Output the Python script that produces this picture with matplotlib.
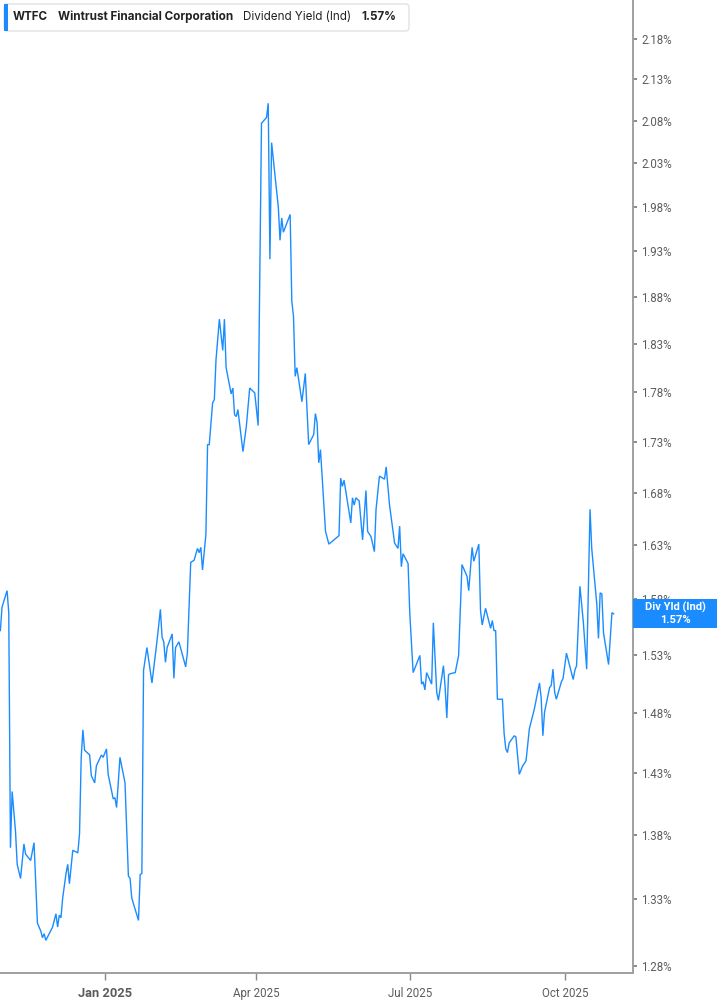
import matplotlib
matplotlib.use('Agg')
import matplotlib.pyplot as plt
import matplotlib.dates as mdates
from matplotlib.ticker import FixedLocator, NullLocator
from matplotlib.patches import FancyBboxPatch, Rectangle
import pandas as pd

# ---------------- data ----------------
base_date = '2025-01-01'
day_offsets = [
    -62, -61, -58, -57, -56, -55, -53, -52, -50, -48,
    -47, -44, -42, -40, -38, -37, -36, -35, -31, -29,
    -28, -27, -26, -25, -23, -22, -21, -19, -16, -15,
    -14, -13, -12, -9, -8, -6, -5, -2, -1, 1,
    2, 5, 6, 7, 9, 12, 14, 15, 16, 20,
    21, 22, 23, 25, 28, 31, 33, 34, 35, 36,
    37, 40, 41, 42, 44, 48, 49, 51, 53, 55,
    56, 57, 58, 60, 61, 62, 64, 65, 66, 68,
    70, 71, 72, 75, 76, 77, 78, 79, 82, 84,
    86, 89, 91, 93, 96, 97, 98, 99, 103, 104,
    105, 106, 110, 111, 112, 113, 114, 117, 119, 121,
    124, 125, 126, 127, 128, 131, 133, 139, 140, 141,
    142, 146, 147, 148, 149, 151, 153, 155, 156, 158,
    160, 161, 163, 166, 167, 169, 172, 174, 175, 176,
    177, 180, 181, 183, 187, 188, 189, 190, 191, 194,
    195, 197, 198, 201, 202, 203, 204, 205, 208, 210,
    212, 215, 216, 218, 219, 222, 223, 224, 226, 229,
    230, 231, 232, 233, 236, 237, 238, 239, 240, 243,
    244, 246, 248, 250, 252, 255, 258, 259, 260, 261,
    264, 265, 266, 267, 268, 271, 272, 274, 278, 279,
    280, 282, 284, 286, 288, 289, 292, 293, 294, 295,
    296, 299, 301, 302,
]
dividend_yield = [
    1.552, 1.573, 1.588, 1.568, 1.370, 1.415, 1.383, 1.357, 1.346, 1.373,
    1.365, 1.360, 1.374, 1.312, 1.306, 1.301, 1.304, 1.299, 1.309, 1.319,
    1.309, 1.318, 1.316, 1.331, 1.350, 1.357, 1.342, 1.368, 1.366, 1.381,
    1.443, 1.466, 1.449, 1.445, 1.428, 1.422, 1.436, 1.445, 1.443, 1.450,
    1.429, 1.409, 1.410, 1.402, 1.443, 1.422, 1.348, 1.346, 1.331, 1.314,
    1.349, 1.350, 1.517, 1.537, 1.506, 1.543, 1.571, 1.546, 1.542, 1.524,
    1.537, 1.549, 1.510, 1.537, 1.542, 1.520, 1.532, 1.614, 1.616, 1.627,
    1.623, 1.628, 1.607, 1.640, 1.727, 1.727, 1.769, 1.772, 1.813, 1.856,
    1.823, 1.856, 1.805, 1.778, 1.784, 1.757, 1.755, 1.762, 1.720, 1.745,
    1.784, 1.779, 1.746, 2.077, 2.084, 2.101, 1.921, 2.054, 1.979, 1.942,
    1.967, 1.951, 1.971, 1.875, 1.859, 1.796, 1.805, 1.770, 1.799, 1.727,
    1.737, 1.758, 1.749, 1.709, 1.722, 1.643, 1.631, 1.639, 1.694, 1.686,
    1.692, 1.651, 1.675, 1.668, 1.675, 1.672, 1.635, 1.682, 1.643, 1.638,
    1.624, 1.664, 1.696, 1.693, 1.705, 1.668, 1.632, 1.627, 1.648, 1.610,
    1.622, 1.613, 1.568, 1.515, 1.530, 1.505, 1.507, 1.500, 1.515, 1.505,
    1.559, 1.498, 1.491, 1.521, 1.502, 1.476, 1.513, 1.514, 1.515, 1.530,
    1.612, 1.601, 1.588, 1.628, 1.615, 1.631, 1.570, 1.557, 1.572, 1.554,
    1.561, 1.552, 1.552, 1.492, 1.492, 1.463, 1.450, 1.447, 1.455, 1.461,
    1.460, 1.429, 1.436, 1.440, 1.467, 1.484, 1.506, 1.493, 1.461, 1.481,
    1.502, 1.504, 1.518, 1.498, 1.492, 1.507, 1.510, 1.532, 1.509, 1.517,
    1.521, 1.592, 1.560, 1.518, 1.664, 1.627, 1.576, 1.545, 1.586, 1.585,
    1.550, 1.522, 1.568, 1.567,
]
y_ticks = [1.28, 1.33, 1.38, 1.43, 1.48, 1.53, 1.58, 1.63, 1.68, 1.73,
           1.78, 1.83, 1.88, 1.93, 1.98, 2.03, 2.08, 2.13, 2.18]
x_tick_dates = ['2025-01-01', '2025-04-01', '2025-07-01', '2025-10-01']
x_tick_labels = ['Jan 2025', 'Apr 2025', 'Jul 2025', 'Oct 2025']
ticker = 'WTFC'
company = 'Wintrust Financial Corporation'
metric = 'Dividend Yield (Ind)'
last_value = 1.57
badge_title = 'Div Yld (Ind)'

# ---------------- figure ----------------
W, H = 717, 1005
LINE = '#1a8cff'
GRAY = '#5c5c5c'
AXIS = '#a0a0a0'

fig = plt.figure(figsize=(W / 100, H / 100), dpi=100)
ax = fig.add_axes([0, 32 / H, 633 / W, 973 / H])

base = pd.Timestamp(base_date)
dates = base + pd.to_timedelta(day_offsets, unit='D')
ax.plot(dates, dividend_yield, color=LINE, lw=1.0, solid_joinstyle='miter')

ax.set_yscale('log')
ax.set_ylim(1.2749, 2.2294)
ax.set_xlim(base - pd.Timedelta(days=62.2), base + pd.Timedelta(days=313.5))

ax.yaxis.set_major_locator(FixedLocator(y_ticks))
ax.yaxis.set_minor_locator(NullLocator())
ax.set_yticklabels([f'{t:.2f}%' for t in y_ticks])
ax.yaxis.tick_right()
ax.tick_params(axis='y', which='major', direction='out', length=3, width=1.2,
               color='#777777', labelcolor=GRAY, labelsize=8.3, pad=3)
for lab in ax.get_yticklabels():
    lab.set_fontfamily('Roboto')

xt = [pd.Timestamp(d) for d in x_tick_dates]
ax.set_xticks(xt)
ax.set_xticklabels(x_tick_labels)
ax.tick_params(axis='x', which='major', direction='out', length=5, width=1.0,
               color='#888888', labelcolor=GRAY, labelsize=8.3, pad=5)
for i, lab in enumerate(ax.get_xticklabels()):
    lab.set_fontfamily('Roboto')
    if i == 0:
        lab.set_fontweight('bold')
        lab.set_fontsize(9.3)

for s in ['left', 'top']:
    ax.spines[s].set_visible(False)
for s in ['right', 'bottom']:
    ax.spines[s].set_color(AXIS)
    ax.spines[s].set_linewidth(1.4)
ax.set_facecolor('white')

# ---------------- last value badge ----------------
fig.canvas.draw()
_, yd = ax.transData.transform((mdates.date2num(dates[-1]), float(dividend_yield[-1])))
yc = yd / fig.bbox.height
bh = 29 / H
fig.patches.append(Rectangle((633 / W, yc - bh / 2), 84 / W, bh,
                             transform=fig.transFigure, facecolor=LINE,
                             edgecolor='none', zorder=5))
fig.text(675 / W, yc + 6 / H, badge_title, color='white', fontsize=8,
         fontweight='bold', family='Roboto', ha='center', va='center', zorder=6)
fig.text(675 / W, yc - 6 / H, f'{last_value:.2f}%', color='white', fontsize=8,
         fontweight='bold', family='Roboto', ha='center', va='center', zorder=6)

# ---------------- header ----------------
hx0, hx1, hy0, hy1 = 4, 409, 4, 31
fig.patches.append(FancyBboxPatch((hx0 / W, 1 - hy1 / H), (hx1 - hx0) / W, (hy1 - hy0) / H,
                                  boxstyle='round,pad=0,rounding_size=0.004',
                                  transform=fig.transFigure, facecolor='white',
                                  edgecolor='#e2e2e2', lw=1.0, zorder=5))
fig.patches.append(Rectangle((hx0 / W, 1 - hy1 / H), 3.5 / W, (hy1 - hy0) / H,
                             transform=fig.transFigure, facecolor=LINE,
                             edgecolor='none', zorder=6))
ty = 1 - 17 / H
fig.text(13 / W, ty, ticker, fontsize=8.4, fontweight='bold', color='#222222',
         family='Inter', va='center', zorder=7)
fig.text(58 / W, ty, company, fontsize=8.4, fontweight='bold', color='#222222',
         family='Inter', va='center', zorder=7)
fig.text(243 / W, ty, metric, fontsize=8.4, color='#222222',
         family='Inter', va='center', zorder=7)
fig.text(361 / W, ty, f'{last_value:.2f}%', fontsize=8.4, fontweight='bold',
         color='#222222', family='Inter', va='center', zorder=7)

fig.savefig('out.png', dpi=100, facecolor='white')
